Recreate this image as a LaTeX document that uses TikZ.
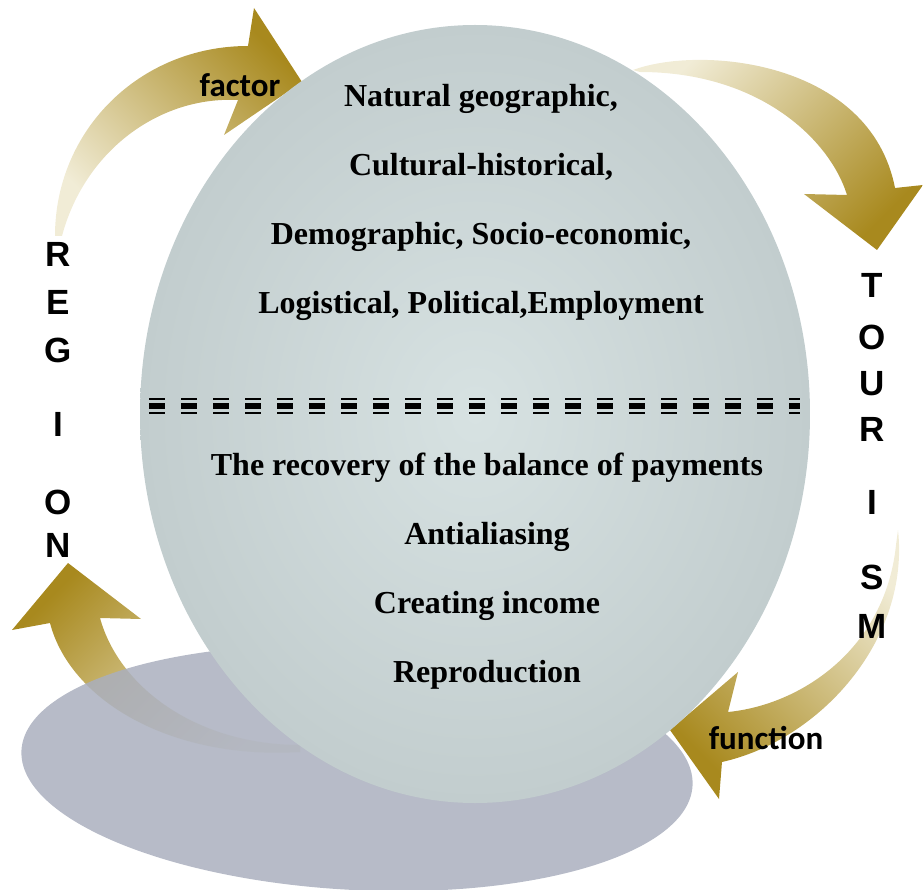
\documentclass[tikz,border=0pt]{standalone}
\usepackage{fontspec}
\setmainfont{Liberation Serif}
\newfontfamily\lettfont{Liberation Sans}
\newfontfamily\labfont{Carlito}
\definecolor{golddark}{RGB}{168,137,30}
\definecolor{goldlight}{RGB}{241,236,214}
\definecolor{ballin}{RGB}{215,226,226}
\definecolor{ballout}{RGB}{194,205,206}
\definecolor{shadowgray}{RGB}{170,175,190}

\begin{document}
\begin{tikzpicture}[x=1pt, y=-1pt,
  circtext/.style={anchor=base, font=\bfseries\fontsize{32}{38}\selectfont},
  letter/.style={font=\lettfont\bfseries\fontsize{35}{40}\selectfont},
  arrowlabel/.style={font=\labfont\bfseries\fontsize{33}{38}\selectfont}]
\useasboundingbox (0,0) rectangle (923,890);

\shade[top color=golddark, bottom color=goldlight, shading angle=-45]
  (55,236) .. controls (55,130) and (140,46) .. (248,46) -- (254,8) -- (302,82)
  -- (224,135) -- (238,100) .. controls (160,96) and (85,150) .. (62,236) -- cycle;
\shade[top color=goldlight, bottom color=golddark, shading angle=45]
  (633,70) .. controls (700,45) and (870,60) .. (895,188) -- (923,185) -- (877,250)
  -- (804,194) -- (847,195) .. controls (830,140) and (760,72) .. (640,72) -- cycle;
\shade[top color=goldlight, bottom color=golddark, shading angle=-45]
  (898,530) .. controls (910,640) and (820,740) .. (722,762) -- (719,799) -- (670,730)
  -- (738,672) -- (728,712) .. controls (800,705) and (885,650) .. (896,545) -- cycle;
\shade[top color=golddark, bottom color=goldlight, shading angle=45]
  (68,563) -- (141,619) -- (100,618) .. controls (120,690) and (200,745) .. (300,745)
  -- (300,752) .. controls (170,760) and (70,700) .. (50,623) -- (12,630) -- cycle;

\fill[shadowgray, fill opacity=0.85, rotate around={-3:(357,768)}] (357,768) ellipse [x radius=336, y radius=122];
\shade[inner color=ballin, outer color=ballout] (475,414) ellipse [x radius=335, y radius=389];

\node[circtext] (nat) at (481,107) {Natural geographic,};
\node[circtext] (cult) at (481,176) {Cultural-historical,};
\node[circtext] (demo) at (481,245) {Demographic, Socio-economic,};
\node[circtext] (logi) at (481,314) {Logistical, Political,Employment};

\foreach \yy/\w in {399/2pt, 406/6pt, 413/2pt}
  \draw[line width=\w, dash pattern=on 16pt off 16pt] (149,\yy) -- (800,\yy);

\node[circtext] (bal) at (487,475) {The recovery of the balance of payments};
\node[circtext] (anti) at (487,544) {Antialiasing};
\node[circtext] (inc) at (487,613) {Creating income};
\node[circtext] (repr) at (487,682) {Reproduction};

\foreach \l/\yy [count=\i] in {R/254, E/302, G/350, I/424, O/502, N/545}
  \node[letter] (reg\i) at (58,\yy) {\l};
\foreach \l/\yy [count=\i] in {T/285, O/337, U/384, R/429, I/502, S/577, M/626}
  \node[letter] (tour\i) at (872,\yy) {\l};

\node[arrowlabel] (fact) at (240,85) {factor};
\node[arrowlabel] (func) at (766,738) {function};
\end{tikzpicture}
\end{document}
